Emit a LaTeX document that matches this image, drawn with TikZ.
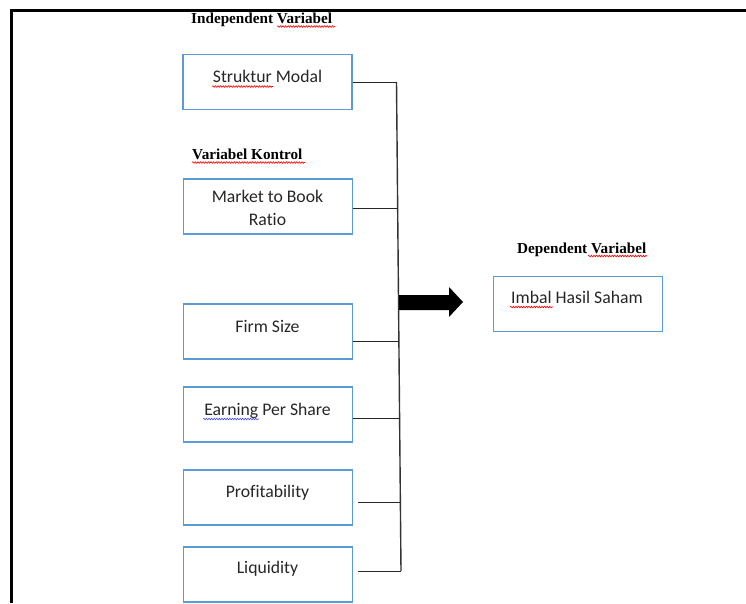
\documentclass[tikz,border=0pt]{standalone}
\usepackage{fontspec}
\setmainfont{Liberation Serif}
\newfontfamily\carlito[Ligatures=NoCommon]{Carlito}
\usetikzlibrary{decorations.pathmorphing}
\definecolor{boxblue}{RGB}{91,155,213}
\tikzset{
  varbox/.style={draw=boxblue, line width=1.3pt, minimum width=169pt, minimum height=55pt, inner sep=0pt},
  boxtext/.style={anchor=base, inner sep=0pt, font=\carlito\fontsize{17.7}{21}\selectfont, text=black!85},
  heading/.style={anchor=base west, inner sep=0pt, font=\bfseries\fontsize{15.2}{18}\selectfont},
  conn/.style={draw=black!85, line width=1pt},
  spell/.style={draw=red, line width=0.6pt, decorate, decoration={snake, amplitude=0.8pt, segment length=2.6pt}},
  spellblue/.style={spell, draw=blue!70}
}
\begin{document}
\begin{tikzpicture}[x=1pt,y=-1pt]
\useasboundingbox (0,0) rectangle (746,603);
% frame lines
\fill (10,8.5) rectangle (746,11.5);
\fill (10,8.5) rectangle (13,603);

% headings
\node[heading] (hind) at (191,23) {Independent Variabel};
\node[heading] (hkon) at (192,159) {Variabel Kontrol};
\node[heading] (hdep) at (517,253) {Dependent Variabel};

% boxes
\node[varbox] (sm)  at (267.5,82)  {};
\node[varbox] (mb)  at (268,206.5) {};
\node[varbox] (fs)  at (268,331.5) {};
\node[varbox] (eps) at (268,414.5) {};
\node[varbox] (pr)  at (268,497.5) {};
\node[varbox] (lq)  at (268,574.5) {};
\node[varbox] (ihs) at (578,304)   {};

% box texts
\node[boxtext] (tsm)  at (267.5,82) {Struktur Modal};
\node[boxtext] (tmb1) at (267.5,202) {Market to Book};
\node[boxtext] (tmb2) at (267.5,225) {Ratio};
\node[boxtext] (tfs)  at (267.5,332) {Firm Size};
\node[boxtext] (teps) at (267.5,415) {Earning Per Share};
\node[boxtext] (tpr)  at (267.5,497) {Profitability};
\node[boxtext] (tlq)  at (267.5,573) {Liquidity};
\node[boxtext] (tihs) at (577,303) {Imbal Hasil Saham};

% spell-check underlines
\draw[spell] (277,26.5) -- (335,26.5);
\draw[spell] (192,162.5) -- (305,162.5);
\draw[spell] (588,256) -- (647,256);
\draw[spell] (212,86.5) -- (273,86.5);
\draw[spell] (510,307) -- (553,307);
\draw[spellblue] (203,419) -- (259,419);

% spine
\coordinate (j1) at (396.5,82);
\coordinate (j2) at (397.7,208);
\coordinate (j3) at (398.9,341);
\coordinate (j4) at (399.6,418);
\coordinate (j5) at (400.4,502);
\coordinate (j6) at (401,571);
\draw[draw=black!80, line width=1.4pt] (j1) -- (j6);

% connectors
\draw[conn] (sm.east) -- (j1);
\draw[conn] ([yshift=-1.5pt]mb.east) -- (j2);
\draw[conn] ([yshift=-9.5pt]fs.east) -- (j3);
\draw[conn] ([yshift=-3.5pt]eps.east) -- (j4);
\draw[conn] ([xshift=5pt,yshift=-4.5pt]pr.east) -- (j5);
\draw[conn] ([xshift=5pt,yshift=3.5pt]lq.east) -- (j6);

% block arrow
\fill (399,295) -- (449,295) -- (449,287) -- (463,302) -- (449,317) -- (449,310) -- (399,310) -- cycle;
\end{tikzpicture}
\end{document}
